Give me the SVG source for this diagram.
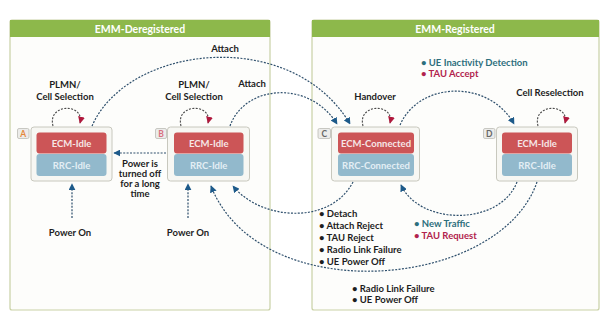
<svg xmlns="http://www.w3.org/2000/svg" width="605" height="320" viewBox="0 0 605 320">
  <defs>
    <style>
      .panel { fill: #fdfdfb; stroke: #c9d1a6; stroke-width: 1.2; }
      .hdr { fill: #8db84b; }
      .hdr-t { font: bold 10.5px Lato, "Liberation Sans", sans-serif; fill: #ffffff; text-anchor: middle; }
      .node { fill: #f7f7f3; stroke: #c8c8be; stroke-width: 1; }
      .ecm { fill: #cc5557; }
      .rrc { fill: #92b9cc; }
      .ecm-t { font: bold 9.5px Lato, "Liberation Sans", sans-serif; fill: #f6e6e6; text-anchor: middle; }
      .rrc-t { font: bold 9.5px Lato, "Liberation Sans", sans-serif; fill: #e3eef4; text-anchor: middle; }
      .tag { fill: #ececea; stroke: #bdbdb5; stroke-width: 0.8; }
      .tag-t { font: bold 8.5px Lato, "Liberation Sans", sans-serif; text-anchor: middle; }
      .lbl { font: bold 9.5px Lato, "Liberation Sans", sans-serif; fill: #1e1e1e; }
      .mid { text-anchor: middle; }
      .teal { fill: #2d6f7d; }
      .crim { fill: #b1234d; }
      .flow { fill: none; stroke: #2e4f6c; stroke-width: 1.2; stroke-dasharray: 2 1.4; }
      .loop { fill: none; stroke: #4a4a4a; stroke-width: 1.1; stroke-dasharray: 2 1.4; }
    </style>
    <marker id="arr" viewBox="0 0 10 10" refX="9" refY="5" markerWidth="7" markerHeight="7" markerUnits="userSpaceOnUse" orient="auto">
      <path d="M0,0 L10,5 L0,10 z" fill="#1d5a8a"/>
    </marker>
    <marker id="arr-red" viewBox="0 0 10 10" refX="9" refY="5" markerWidth="7" markerHeight="7" markerUnits="userSpaceOnUse" orient="auto">
      <path d="M0,0 L10,5 L0,10 z" fill="#b0183c"/>
    </marker>
  </defs>

  <!-- state panels -->
  <g id="emm-deregistered">
    <rect class="panel" x="10" y="20" width="260" height="290" rx="2"/>
    <rect class="hdr" x="10" y="20" width="260" height="17"/>
    <text class="hdr-t" x="140" y="32.5">EMM-Deregistered</text>
  </g>
  <g id="emm-registered">
    <rect class="panel" x="312" y="20" width="287" height="290" rx="2"/>
    <rect class="hdr" x="312" y="20" width="287" height="17"/>
    <text class="hdr-t" x="455" y="32.5">EMM-Registered</text>
  </g>

  <!-- nodes -->
  <g id="node-a">
    <rect class="node" x="31" y="127" width="81" height="54" rx="3"/>
    <rect class="ecm" x="36.5" y="132.5" width="70" height="21" rx="3"/>
    <rect class="rrc" x="36.5" y="154" width="70" height="22" rx="3"/>
    <text class="ecm-t" x="71.5" y="146.5">ECM-Idle</text>
    <text class="rrc-t" x="71.5" y="168.5">RRC-Idle</text>
    <rect class="tag" x="17.5" y="128.5" width="11.5" height="10" rx="1.5"/>
    <text class="tag-t" x="23.2" y="136.8" fill="#e5873b">A</text>
  </g>
  <g id="node-b">
    <rect class="node" x="167.5" y="127" width="82" height="54" rx="3"/>
    <rect class="ecm" x="174" y="132.5" width="69.5" height="21" rx="3"/>
    <rect class="rrc" x="174" y="154" width="69.5" height="22" rx="3"/>
    <text class="ecm-t" x="208.7" y="146.5">ECM-Idle</text>
    <text class="rrc-t" x="208.7" y="168.5">RRC-Idle</text>
    <rect class="tag" x="155.5" y="128.5" width="11" height="10" rx="1.5"/>
    <text class="tag-t" x="161" y="136.8" fill="#d8707f">B</text>
  </g>
  <g id="node-c">
    <rect class="node" x="331.5" y="127" width="88" height="54" rx="3"/>
    <rect class="ecm" x="338" y="132.5" width="76" height="21" rx="3"/>
    <rect class="rrc" x="338" y="154" width="76" height="22" rx="3"/>
    <text class="ecm-t" x="376" y="146.5">ECM-Connected</text>
    <text class="rrc-t" x="376" y="168.5">RRC-Connected</text>
    <rect class="tag" x="318" y="128.5" width="12.5" height="10" rx="1.5"/>
    <text class="tag-t" x="324.3" y="136.8" fill="#666666">C</text>
  </g>
  <g id="node-d">
    <rect class="node" x="496.5" y="127" width="81" height="54" rx="3"/>
    <rect class="ecm" x="502" y="132.5" width="70" height="21" rx="3"/>
    <rect class="rrc" x="502" y="154" width="70" height="22" rx="3"/>
    <text class="ecm-t" x="537" y="146.5">ECM-Idle</text>
    <text class="rrc-t" x="537" y="168.5">RRC-Idle</text>
    <rect class="tag" x="483.5" y="128.5" width="11.5" height="10" rx="1.5"/>
    <text class="tag-t" x="489.2" y="136.8" fill="#666666">D</text>
  </g>

  <!-- connectors -->
  <g id="connectors">
    <!-- self transitions -->
    <path class="loop" d="M53,126 C47,103 85,103 80,123" marker-end="url(#arr-red)"/>
    <path class="loop" d="M181,126 C175,103 213,103 208,123" marker-end="url(#arr-red)"/>
    <path class="loop" d="M363,126 C357,103 395,103 390,123" marker-end="url(#arr-red)"/>
    <path class="loop" d="M538,126 C532,103 570,103 565,123" marker-end="url(#arr-red)"/>
    <!-- attach -->
    <path class="flow" d="M92,126 C128,44 292,26 350,124" marker-end="url(#arr)"/>
    <path class="flow" d="M230,126 C245,84 310,80 337,124" marker-end="url(#arr)"/>
    <!-- C to D -->
    <path class="flow" d="M400,125 C420,80 490,80 514,124" marker-end="url(#arr)"/>
    <!-- power off -->
    <path class="flow" d="M166,153 L114,153" marker-end="url(#arr)"/>
    <!-- power on -->
    <path class="flow" d="M72,218 L72,184" marker-end="url(#arr)"/>
    <path class="flow" d="M188,218 L188,184" marker-end="url(#arr)"/>
    <!-- C to B -->
    <path class="flow" d="M353,182 C330,226 260,220 233,186" marker-end="url(#arr)"/>
    <!-- D to B -->
    <path class="flow" d="M537,182 C500,290 260,310 211,186" marker-end="url(#arr)"/>
    <!-- D to C -->
    <path class="flow" d="M517,182 C500,226 420,226 401,185" marker-end="url(#arr)"/>
  </g>

  <!-- labels -->
  <g id="labels">
    <text class="lbl mid" x="225" y="51.5">Attach</text>
    <text class="lbl mid" x="252" y="86.5">Attach</text>
    <text class="lbl mid" x="65" y="88">PLMN/</text>
    <text class="lbl mid" x="65" y="99.5">Cell Selection</text>
    <text class="lbl mid" x="194" y="88">PLMN/</text>
    <text class="lbl mid" x="194" y="99.5">Cell Selection</text>
    <text class="lbl mid" x="375" y="100">Handover</text>
    <text class="lbl mid" x="550" y="95.5">Cell Reselection</text>
    <text class="lbl teal" x="421" y="65.5">• UE Inactivity Detection</text>
    <text class="lbl crim" x="421" y="76.5">• TAU Accept</text>
    <text class="lbl mid" x="140" y="166.5">Power is</text>
    <text class="lbl mid" x="140" y="176.5">turned off</text>
    <text class="lbl mid" x="140" y="186.5">for a long</text>
    <text class="lbl mid" x="140" y="196.5">time</text>
    <text class="lbl mid" x="70" y="235.5">Power On</text>
    <text class="lbl mid" x="188" y="235.5">Power On</text>
    <text class="lbl" x="319" y="217">• Detach</text>
    <text class="lbl" x="319" y="229">• Attach Reject</text>
    <text class="lbl" x="319" y="241">• TAU Reject</text>
    <text class="lbl" x="319" y="253">• Radio Link Failure</text>
    <text class="lbl" x="319" y="264.5">• UE Power Off</text>
    <text class="lbl teal" x="414" y="226.5">• New Traffic</text>
    <text class="lbl crim" x="414" y="238.5">• TAU Request</text>
    <text class="lbl" x="352" y="291.5">• Radio Link Failure</text>
    <text class="lbl" x="352" y="302.5">• UE Power Off</text>
  </g>
</svg>
